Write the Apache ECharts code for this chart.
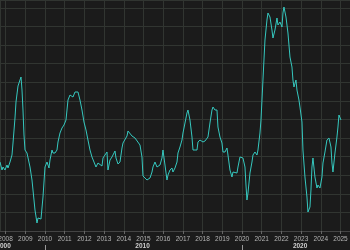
<!DOCTYPE html>
<html>
<head>
<meta charset="utf-8">
<script src="https://cdn.jsdelivr.net/npm/echarts@6/dist/echarts.min.js"></script>
<style>html,body{margin:0;padding:0;background:#1b1b1b;}#c{width:350px;height:250px;}</style>
</head>
<body>
<div id="c"></div>
<script>
// Decimal-year dates of each reading
const dates = [2007.716,2007.818,2007.868,2007.970,2008.071,2008.122,2008.224,2008.325,2008.376,2008.477,2008.528,2008.630,2008.680,2008.731,2008.782,2008.833,2008.883,2008.934,2008.985,2009.086,2009.137,2009.239,2009.340,2009.391,2009.492,2009.594,2009.645,2009.746,2009.797,2009.898,2010.000,2010.101,2010.203,2010.254,2010.355,2010.406,2010.508,2010.609,2010.660,2010.761,2010.863,2010.964,2011.066,2011.167,2011.269,2011.320,2011.421,2011.523,2011.624,2011.675,2011.776,2011.878,2011.979,2012.081,2012.182,2012.284,2012.385,2012.487,2012.588,2012.690,2012.791,2012.893,2012.944,2013.045,2013.147,2013.197,2013.299,2013.400,2013.553,2013.604,2013.705,2013.807,2013.908,2013.959,2014.060,2014.162,2014.213,2014.314,2014.416,2014.568,2014.669,2014.822,2014.923,2014.974,2015.075,2015.177,2015.228,2015.329,2015.431,2015.481,2015.583,2015.684,2015.735,2015.837,2015.938,2015.989,2016.090,2016.192,2016.243,2016.344,2016.446,2016.496,2016.598,2016.700,2016.750,2016.852,2016.953,2017.004,2017.106,2017.207,2017.258,2017.359,2017.461,2017.512,2017.613,2017.715,2017.765,2017.867,2018.019,2018.121,2018.222,2018.273,2018.374,2018.476,2018.527,2018.628,2018.730,2018.780,2018.882,2018.983,2019.034,2019.136,2019.237,2019.288,2019.389,2019.491,2019.542,2019.643,2019.745,2019.796,2019.897,2020.049,2020.151,2020.202,2020.252,2020.303,2020.405,2020.506,2020.557,2020.658,2020.760,2020.811,2020.912,2020.963,2021.014,2021.064,2021.115,2021.166,2021.267,2021.318,2021.420,2021.521,2021.572,2021.673,2021.775,2021.826,2021.927,2022.029,2022.079,2022.130,2022.232,2022.333,2022.435,2022.536,2022.587,2022.638,2022.739,2022.790,2022.891,2022.942,2023.044,2023.094,2023.196,2023.297,2023.348,2023.450,2023.500,2023.551,2023.602,2023.703,2023.805,2023.856,2023.957,2024.059,2024.110,2024.211,2024.312,2024.414,2024.516,2024.566,2024.617,2024.719,2024.820,2024.871,2024.922,2025.023];
// Series values (arbitrary units)
const values = [6.9,6.1,6.4,6.1,6.6,6.3,6.9,7.6,8.8,11.3,12.9,14.5,14.3,15.1,15.4,14.1,12.1,9.6,8.1,7.8,7.9,6.4,5.1,4.1,2.1,0.8,1.3,1.4,1.2,3.4,6.4,6.9,6.3,7.1,8.1,7.8,7.8,8.1,8.9,9.8,10.3,10.6,11.1,13.1,13.6,13.8,13.4,13.9,14.1,13.9,13.1,12.1,10.9,10.1,9.1,8.1,7.4,6.9,6.4,6.8,7.0,6.5,7.3,7.6,7.9,6.1,7.1,7.4,8.0,7.3,6.7,6.9,8.3,8.8,8.6,9.5,10.0,9.8,9.5,9.3,9.1,8.6,7.4,5.5,5.3,5.1,4.9,5.3,5.9,6.4,6.9,6.4,6.5,6.6,7.3,8.1,6.6,5.1,5.6,6.1,6.3,5.9,6.3,6.9,7.8,8.4,9.1,9.8,10.8,11.8,12.1,11.1,9.4,8.1,8.3,8.1,8.9,9.1,8.9,9.0,8.9,9.4,10.8,12.1,12.4,12.1,12.1,10.4,9.4,8.8,7.9,7.9,8.3,7.6,6.1,5.4,5.9,5.9,5.8,6.4,7.4,7.3,6.4,4.6,3.1,3.8,5.8,6.9,7.6,7.9,7.6,8.1,9.8,11.1,13.1,15.1,17.1,19.1,21.1,21.8,21.4,20.1,19.3,20.1,21.3,20.6,20.9,20.4,21.8,22.4,21.4,19.8,17.4,16.4,15.1,14.4,15.1,14.1,13.1,12.4,10.9,8.1,5.4,3.4,1.9,2.4,4.1,6.4,7.3,5.4,4.3,4.6,4.3,5.4,6.8,7.9,9.1,9.3,8.4,6.8,5.9,7.8,9.4,10.4,11.6,11.1];
// Decade labels (second axis row) and where they sit
const decadeLabels = ['2000','2010','2020'];
const decadeLabelPos = [2007.9, 2014.95, 2022.95];
const decadeBreaks = [2010, 2020];

const xMin = 2007.716, xMax = 2025.482;
const chart = echarts.init(document.getElementById('c'), null, {renderer:'canvas'});
const font = 'Liberation Sans, Arial, sans-serif';
chart.setOption({
  animation:false,
  backgroundColor:'#1b1b1b',
  grid:{left:0,right:0,top:0,bottom:19,containLabel:false,outerBoundsMode:'none'},
  xAxis:[
    {type:'value',min:xMin,max:xMax,splitNumber:18,minInterval:1,maxInterval:1,
     axisLine:{show:true,lineStyle:{color:'#444',width:1}},
     axisTick:{show:true,length:3,lineStyle:{color:'#666'}},
     axisLabel:{show:true,color:'#b4b4b4',fontSize:6.5,fontFamily:font,margin:5,showMinLabel:false,showMaxLabel:false,
       hideOverlap:false,formatter:v=>String(Math.round(v))},
     splitLine:{show:true,lineStyle:{color:'#313531',width:1}}},
    {type:'value',min:xMin,max:xMax,position:'bottom',offset:8,
     axisLine:{show:false},axisTick:{show:false},splitLine:{show:false},
     axisLabel:{show:true,color:'#d0d0d0',fontSize:6.5,fontWeight:'bold',fontFamily:font,margin:4,
       hideOverlap:false,customValues:decadeLabelPos,
       formatter:v=>{const i=decadeLabelPos.indexOf(v);return i>=0?decadeLabels[i]:'';}}},
    {type:'value',min:xMin,max:xMax,position:'bottom',offset:14,
     axisLine:{show:false},splitLine:{show:false},
     axisTick:{show:true,length:6,customValues:decadeBreaks,lineStyle:{color:'#999'}},
     axisLabel:{show:false}}
  ],
  yAxis:{type:'value',min:0,max:23.1,interval:1.86,
    axisLine:{show:false},axisTick:{show:false},axisLabel:{show:false},
    splitLine:{show:true,lineStyle:{color:'#313531',width:1}}},
  series:[{type:'line',xAxisIndex:0,showSymbol:false,
    data:dates.map((d,i)=>[d,values[i]]),
    lineStyle:{color:'#36c8bf',width:1},itemStyle:{color:'#36c8bf'}}]
});
</script>
</body>
</html>
